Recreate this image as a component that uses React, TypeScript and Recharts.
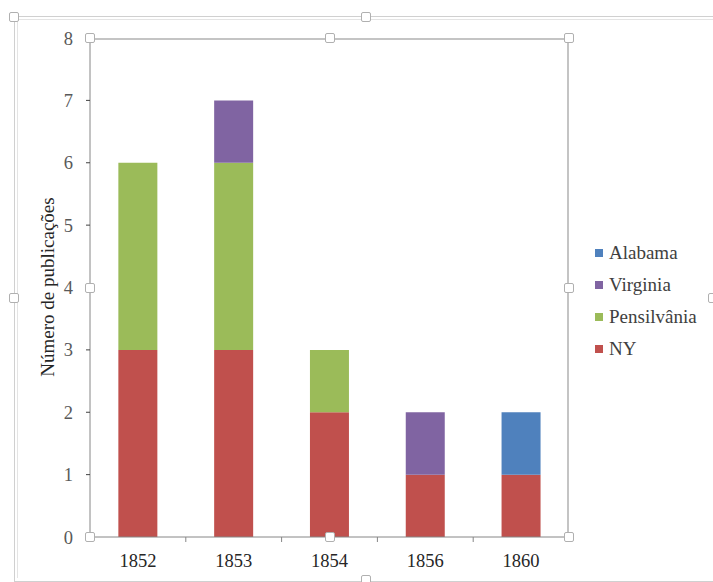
import React from 'react';
import { BarChart, Bar, XAxis, YAxis } from 'recharts';

// stacked publications per year and state
const years = ['1852', '1853', '1854', '1856', '1860'];
const ny = [3, 3, 2, 1, 1];
const pensilvania = [3, 3, 1, 0, 0];
const virginia = [0, 1, 0, 1, 0];
const alabama = [0, 0, 0, 0, 1];
const yTicks = [0, 1, 2, 3, 4, 5, 6, 7, 8];

const series = [
  { key: 'NY', values: ny, color: '#C0504D' },
  { key: 'Pensilvânia', values: pensilvania, color: '#9BBB59' },
  { key: 'Virginia', values: virginia, color: '#8064A2' },
  { key: 'Alabama', values: alabama, color: '#4F81BD' },
];

const data = years.map((year, i) => {
  const row: Record<string, any> = { year };
  series.forEach(s => { row[s.key] = s.values[i]; });
  return row;
});

const W = 713;
const H = 582;
const PLOT = { left: 90, top: 38, right: 569, bottom: 537 };
const FONT = 'Liberation Serif, DejaVu Serif, serif';
const AXIS_GRAY = '#868686';
const BAND = (PLOT.right - PLOT.left) / years.length;

// category label plus Excel-style tick between categories
const XTick = (props: any) => {
  const { x, y, payload, index } = props;
  const left = x - BAND / 2;
  return (
    <g>
      <line x1={left} x2={left} y1={y} y2={y + 5} stroke={AXIS_GRAY} />
      {index === years.length - 1 && (
        <line x1={x + BAND / 2} x2={x + BAND / 2} y1={y} y2={y + 5} stroke={AXIS_GRAY} />
      )}
      <text x={x} y={y + 30} textAnchor="middle" style={{ fontFamily: FONT }} fontSize={18.5} fill="#262626">
        {payload.value}
      </text>
    </g>
  );
};

const Handle: React.FC<{ x: number; y: number }> = ({ x, y }) => (
  <div style={{
    position: 'absolute', left: x - 5, top: y - 5, width: 8, height: 8,
    border: '1px solid #b0b0b0', background: '#fff', borderRadius: 2,
  }} />
);

const App: React.FC = () => {
  const midX = (PLOT.left + PLOT.right) / 2;
  const midY = (PLOT.top + PLOT.bottom) / 2;
  return (
    <div style={{ position: 'absolute', left: 0, top: 0, width: W, height: H, background: '#fff', overflow: 'hidden', fontFamily: FONT }}>
      {/* outer chart frame */}
      <div style={{ position: 'absolute', left: 14, top: 16, width: W, height: 564, borderTop: '1px solid #d0d0d0', borderLeft: '1px solid #d0d0d0', borderBottom: '1px solid #d0d0d0' }} />
      <div style={{ position: 'absolute', left: 17, top: 19, width: W, height: 558, borderTop: '1px solid #e4e4e4', borderLeft: '1px solid #e4e4e4' }} />
      {/* plot area selection border */}
      <div style={{ position: 'absolute', left: PLOT.left, top: PLOT.top, width: PLOT.right - PLOT.left, height: PLOT.bottom - PLOT.top, border: '1px solid #c4c4c4', borderWidth: '2px 2px 0 0', boxSizing: 'border-box' }} />
      <BarChart
        width={W}
        height={H}
        data={data}
        margin={{ top: PLOT.top, right: W - PLOT.right, bottom: 0, left: 0 }}
        barCategoryGap="29.6%"
        style={{ position: 'absolute', left: 0, top: 0 }}
      >
        <YAxis
          domain={[0, 8]}
          ticks={yTicks}
          width={PLOT.left}
          axisLine={{ stroke: AXIS_GRAY }}
          tickLine={{ stroke: '#404040' }}
          tickSize={4}
          tickMargin={13}
          tick={{ style: { fontFamily: FONT }, fontSize: 18.5, fill: '#595959' }}
          interval={0}
        />
        <XAxis
          dataKey="year"
          height={H - PLOT.bottom}
          axisLine={{ stroke: AXIS_GRAY }}
          tickLine={false}
          tickSize={0}
          tickMargin={0}
          tick={<XTick />}
          interval={0}
        />
        {series.map(s => (
          <Bar key={s.key} dataKey={s.key} stackId="a" fill={s.color} isAnimationActive={false} />
        ))}
        <text
          x={47}
          y={287}
          transform="rotate(-90 47 287)"
          textAnchor="middle"
          dominantBaseline="central"
          style={{ fontFamily: FONT }}
          fontSize={19}
          fill="#262626"
        >
          Número de publicações
        </text>
      </BarChart>
      {/* legend, top series first */}
      <div style={{ position: 'absolute', left: 595, top: 237, fontSize: 19, color: '#404040' }}>
        {[...series].reverse().map(s => (
          <div key={s.key} style={{ display: 'flex', alignItems: 'center', height: 32 }}>
            <span style={{ width: 8, height: 8, background: s.color, marginRight: 6, display: 'inline-block' }} />
            <span>{s.key}</span>
          </div>
        ))}
      </div>
      {/* selection handles */}
      {[
        [14, 17], [366, 17], [14, 298], [366, 580], [713, 298],
        [PLOT.left, PLOT.top], [midX, PLOT.top], [PLOT.right, PLOT.top],
        [PLOT.left, midY], [PLOT.right, midY],
        [PLOT.left, PLOT.bottom], [midX, PLOT.bottom], [PLOT.right, PLOT.bottom],
      ].map(([x, y], i) => <Handle key={i} x={x} y={y} />)}
    </div>
  );
};

export default App;
